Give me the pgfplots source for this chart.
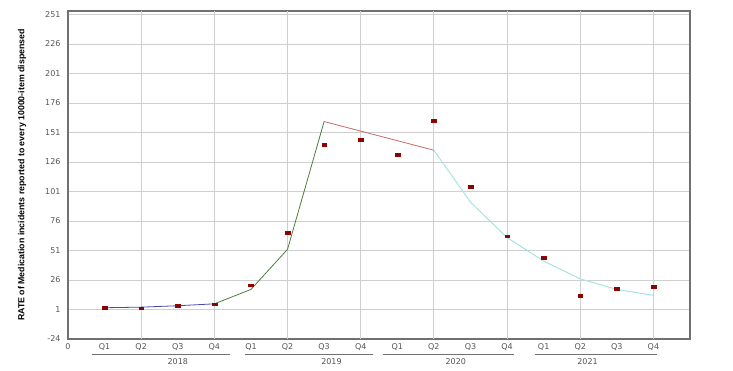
\documentclass[border=0pt]{standalone}
\usepackage{pgfplots}
\pgfplotsset{compat=1.18}
\usepackage{fontspec}
\setmainfont{DejaVu Sans}
\newfontfamily\labfont{Liberation Sans}
\definecolor{tickgray}{HTML}{555555}
\definecolor{gridgray}{HTML}{CFCFCF}
\definecolor{framegray}{HTML}{707070}
\definecolor{lblue}{HTML}{4A4AA8}
\definecolor{lgreen}{HTML}{4E7D3E}
\definecolor{lred}{HTML}{C46A6A}
\definecolor{lcyan}{HTML}{A8E2E2}
\definecolor{mred}{HTML}{7A0A0A}
\begin{document}
\begin{tikzpicture}[x=1pt,y=1pt]
\path[use as bounding box] (0,0) rectangle (733,370);
\begin{axis}[
  at={(68pt,31pt)}, anchor=south west,
  scale only axis, width=622pt, height=328pt,
  xmin=0, xmax=17, ymin=-24, ymax=254,
  clip=false,
  axis line style={framegray, line width=1.2pt},
  xtick={0,...,16},
  xticklabels={0,Q1,Q2,Q3,Q4,Q1,Q2,Q3,Q4,Q1,Q2,Q3,Q4,Q1,Q2,Q3,Q4},
  extra x ticks={2,4,...,16},
  extra x tick labels={},
  extra x tick style={grid=major, major grid style={gridgray, line width=0.8pt}},
  ytick={-24,1,...,251},
  ymajorgrids, major grid style={gridgray, line width=0.8pt},
  major tick length=0pt,
  tick label style={font=\fontsize{8}{9.5}\selectfont, text=tickgray},
  xticklabel style={yshift=-1pt},
  yticklabel style={xshift=-4pt},
  /pgf/number format/assume math mode=true,
]
% blue segment
\addplot[lblue, line width=0.8pt] coordinates {(1,2.5)(2,3)(3,4.2)(4,5.8)};
% green segment
\addplot[lgreen, line width=0.8pt] coordinates {(4,5.8)(5,18)(6,52)(7,160.3)};
% red segment
\addplot[lred, line width=0.8pt] coordinates {(7,160.3)(10,136)};
% cyan segment
\addplot[lcyan, line width=1pt] coordinates {(10,136)(11,92)(12,62)(13,42)(14,27)(15,18)(16,13)};
% data points
\addplot[only marks, mark=square*, mark size=2.4pt,
  mark options={yscale=0.6, fill=mred, draw=red!60!black, line width=0.3pt}]
  coordinates {(1,2.4)(2,2.1)(3,4.4)(4,5.5)(5,21.6)(6,65.8)(7,140.5)(8,144.7)
  (9,132)(10,160.8)(11,104.8)(12,63.2)(13,44.9)(14,12.6)(15,18.6)(16,20.5)};
% year group lines and labels
\draw[framegray, line width=0.7pt] ([yshift=-15pt]axis cs:0.66,-24) -- ([yshift=-15pt]axis cs:4.43,-24);
\draw[framegray, line width=0.7pt] ([yshift=-15pt]axis cs:4.84,-24) -- ([yshift=-15pt]axis cs:8.34,-24);
\draw[framegray, line width=0.7pt] ([yshift=-15pt]axis cs:8.6,-24) -- ([yshift=-15pt]axis cs:12.2,-24);
\draw[framegray, line width=0.7pt] ([yshift=-15pt]axis cs:12.76,-24) -- ([yshift=-15pt]axis cs:16.1,-24);
\node[font=\fontsize{8}{9.5}\selectfont, text=tickgray] at ([yshift=-23pt]axis cs:3.0,-24) {2018};
\node[font=\fontsize{8}{9.5}\selectfont, text=tickgray] at ([yshift=-23pt]axis cs:7.2,-24) {2019};
\node[font=\fontsize{8}{9.5}\selectfont, text=tickgray] at ([yshift=-23pt]axis cs:10.6,-24) {2020};
\node[font=\fontsize{8}{9.5}\selectfont, text=tickgray] at ([yshift=-23pt]axis cs:14.2,-24) {2021};
\end{axis}
\node[rotate=90, font=\labfont\bfseries\fontsize{8.8}{10}\selectfont] at (22,195) {RATE of Medication incidents reported to every 10000-item dispensed};
\end{tikzpicture}
\end{document}
